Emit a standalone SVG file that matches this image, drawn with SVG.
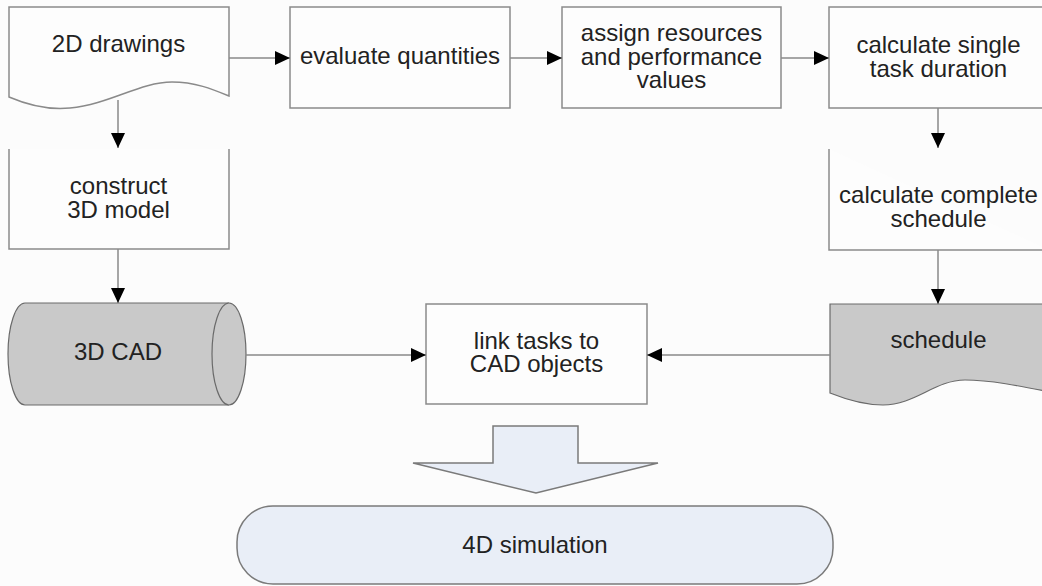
<svg xmlns="http://www.w3.org/2000/svg" width="1042" height="586" viewBox="0 0 1042 586">
<defs>
<marker id="ah" markerUnits="userSpaceOnUse" markerWidth="16" markerHeight="16" viewBox="0 0 16 16" refX="15" refY="8" orient="auto">
<path d="M0,1 L15,8 L0,15 Z" fill="#000"/>
</marker>
<style>
.box{fill:#fdfdfd;stroke:#8a8a8a;stroke-width:1.5}
.gray{fill:#c9c9c9;stroke:#6a6a6a;stroke-width:1.2}
.blue{fill:#e9eef7;stroke:#7a7a7a;stroke-width:1.5}
.con{stroke:#8a8a8a;stroke-width:1.5;fill:none;marker-end:url(#ah)}
text{font-family:"Liberation Sans",Arial,sans-serif;font-size:24px;fill:#222;text-anchor:middle}
</style>
</defs>
<rect width="1042" height="586" fill="#fcfcfc"/>
<g id="drawings2d">
<path class="box" d="M9,7 L229,7 L229,96 C212,89 195,82 172,82 C140,82 110,104 70,108 C50,110 30,106 9,97 Z"/>
<text x="118.5" y="52">2D drawings</text>
</g>
<g id="evaluate">
<rect class="box" x="290" y="7" width="220" height="101"/>
<text x="400" y="64">evaluate quantities</text>
</g>
<g id="assign">
<rect class="box" x="562" y="7" width="219" height="101"/>
<text x="671.5" y="41">assign resources</text>
<text x="671.5" y="64.5">and performance</text>
<text x="671.5" y="88">values</text>
</g>
<g id="calcsingle">
<rect class="box" x="829" y="7" width="220" height="101"/>
<text x="938.5" y="53">calculate single</text>
<text x="938.5" y="76.5">task duration</text>
</g>
<g id="construct">
<path class="box" d="M9,149 L9,249 L229,249 L229,149"/>
<text x="118.5" y="194">construct</text>
<text x="118.5" y="217.5">3D model</text>
</g>
<g id="calccomplete">
<path class="box" d="M829,149 L829,250 L1049,250"/>
<text x="938.5" y="203">calculate complete</text>
<text x="938.5" y="226.5">schedule</text>
</g>
<g id="cad3d">
<path class="gray" d="M25,303 L229,303 A17,51 0 0 1 229,405 L25,405 A17,51 0 0 1 25,303 Z"/>
<path class="gray" d="M229,303 A17,51 0 0 0 229,405"/>
<text x="118" y="360">3D CAD</text>
</g>
<g id="link">
<rect class="box" x="426" y="304" width="221" height="100"/>
<text x="536.5" y="348.5">link tasks to</text>
<text x="536.5" y="372">CAD objects</text>
</g>
<g id="schedule">
<path class="gray" d="M830,304 L1050,304 L1050,392 C1020,386 990,380 965,380 C935,380 915,405 883,405 C866,405 850,401 830,393 Z"/>
<text x="938.5" y="348">schedule</text>
</g>
<g id="bigarrow">
<polygon class="blue" points="493,426 578,426 578,463 658,463 536,493 413,463 493,463"/>
</g>
<g id="sim4d">
<rect class="blue" x="237" y="506" width="596" height="78" rx="36" ry="36"/>
<text x="535" y="553">4D simulation</text>
</g>
<g id="connectors">
<line class="con" x1="229" y1="58" x2="290" y2="58"/>
<line class="con" x1="510" y1="58" x2="562" y2="58"/>
<line class="con" x1="781" y1="58" x2="829" y2="58"/>
<line class="con" x1="118" y1="100" x2="118" y2="148"/>
<line class="con" x1="938" y1="108" x2="938" y2="148"/>
<line class="con" x1="118" y1="249" x2="118" y2="303"/>
<line class="con" x1="938" y1="250" x2="938" y2="304"/>
<line class="con" x1="246" y1="355" x2="426" y2="355"/>
<line class="con" x1="830" y1="355" x2="647" y2="355"/>
</g>
</svg>
